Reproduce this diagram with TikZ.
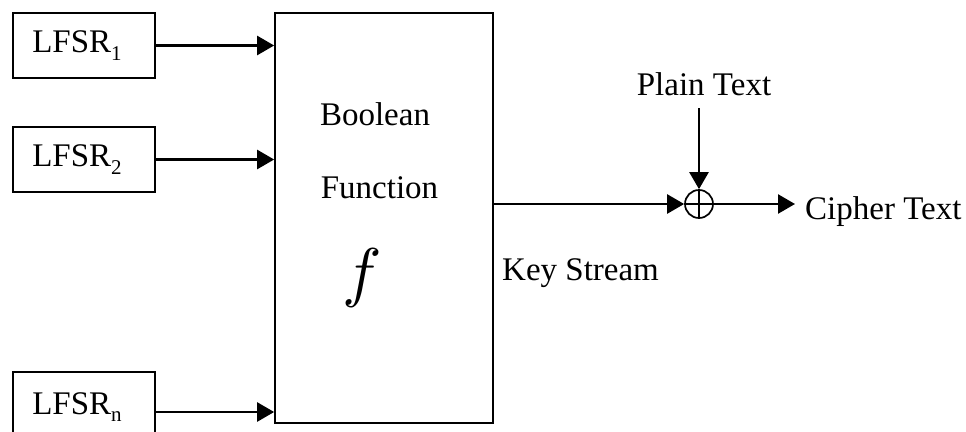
\documentclass[tikz,border=0pt]{standalone}
\usepackage{fontspec}
\usepackage{graphicx}
\setmainfont{Liberation Serif}
\usetikzlibrary{arrows.meta}
\newcommand\lsub[1]{\raisebox{-0.22em}{\fontsize{21}{21}\selectfont #1}}
\begin{document}
\begin{tikzpicture}[x=1pt,y=-1pt,
  lbl/.style={font=\fontsize{33}{40}\selectfont, inner sep=0pt},
  regbox/.style={draw, line width=1.7pt, minimum width=142pt, minimum height=65pt, inner sep=0pt, font=\fontsize{33}{40}\selectfont},
  funcbox/.style={draw, line width=1.7pt, minimum width=218pt, minimum height=410pt, inner sep=0pt},
  xorc/.style={draw, circle, line width=1.7pt, minimum size=28pt, inner sep=0pt},
  arr/.style={line width=2.5pt, -{Triangle[length=17pt,width=19pt]}},
  ln/.style={line width=1.7pt},
  ]
\useasboundingbox (0,0) rectangle (966,431);
\fill[white] (0,0) rectangle (966,431);

% LFSR boxes
\node[regbox] (l1) at (84,45.5) {LFSR\lsub{1}\kern14pt};
\node[regbox] (l2) at (84,159.5) {LFSR\lsub{2}\kern14pt};
\node[regbox, minimum height=70pt] (ln) at (84,407) {LFSR\lsub{n}\kern14pt};

% Boolean function box
\node[funcbox] (bf) at (384,218) {};
\node[lbl, anchor=base] (tb) at (375,125) {Boolean};
\node[lbl, anchor=base] (tf) at (379.5,198) {Function};
\node[inner sep=0pt] (tfx) at (362,278) {\scalebox{6.6}{$f$}};

% inputs
\draw[arr] (l1.east) -- (l1.east -| bf.west);
\draw[arr] (l2.east) -- (l2.east -| bf.west);
\draw[arr] ([yshift=-5pt]ln.east) -- ([yshift=-5pt]ln.east -| bf.west);

% XOR
\node[xorc] (x) at (699,204) {};
\draw[ln] (x.north) -- (x.south) (x.west) -- (x.east);

% key stream
\draw[arr] (x.west -| bf.east) -- (x.west);
\node[lbl, anchor=base west] (ks) at (502,280) {Key Stream};

% plain text
\node[lbl, anchor=base] (pt) at (704,95) {Plain Text};
\draw[arr] ([yshift=-13pt]pt.base -| x.north) -- (x.north);

% cipher text
\node[lbl, anchor=base west] (ct) at (805,219) {Cipher Text};
\draw[arr] (x.east) -- ([xshift=-10pt]x.east -| ct.west);
\end{tikzpicture}
\end{document}
